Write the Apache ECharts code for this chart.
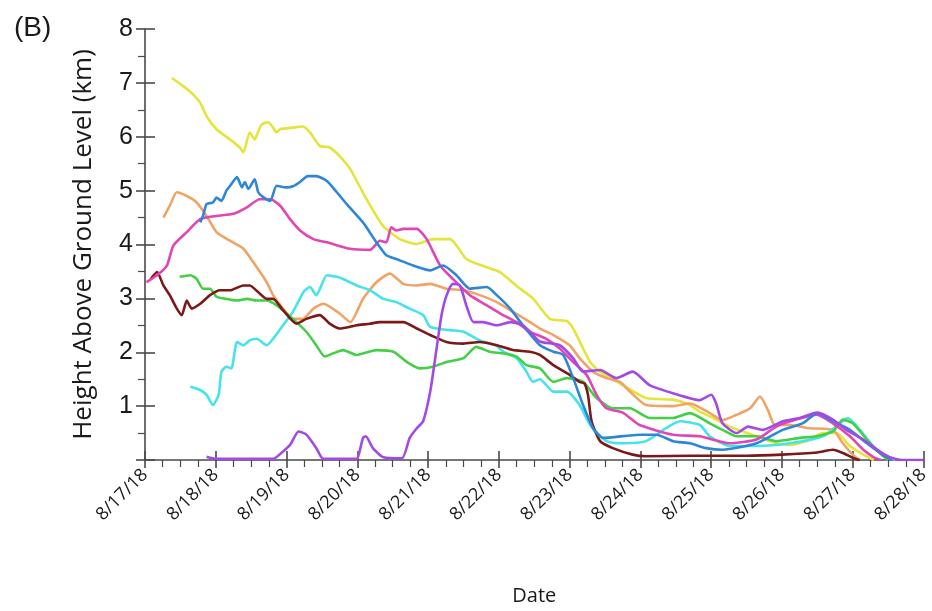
<!DOCTYPE html>
<html>
<head>
<meta charset="utf-8">
<script src="https://cdn.jsdelivr.net/npm/echarts@6/dist/echarts.min.js"></script>
<style>
html,body{margin:0;padding:0;background:#fff;}
#chart{width:932px;height:611px;}
</style>
</head>
<body>
<div id="chart"></div>
<script>
// x values are days since 8/17/18 00:00
const dateLabels = ['8/17/18','8/18/18','8/19/18','8/20/18','8/21/18','8/22/18','8/23/18','8/24/18','8/25/18','8/26/18','8/27/18','8/28/18'];
const yTickLabels = ['', '1', '2', '3', '4', '5', '6', '7', '8'];

const yellowSeries = [[0.38,7.09],[0.54,6.94],[0.66,6.81],[0.78,6.63],[0.87,6.38],[1.01,6.14],[1.2,5.95],[1.34,5.8],[1.39,5.71],[1.48,6.08],[1.55,5.95],[1.6,6.1],[1.65,6.23],[1.74,6.27],[1.81,6.17],[1.86,6.08],[1.91,6.14],[2.09,6.17],[2.23,6.19],[2.33,6.08],[2.47,5.83],[2.61,5.8],[2.75,5.64],[2.9,5.4],[3.13,4.84],[3.36,4.35],[3.6,4.1],[3.84,4.01],[4.07,4.1],[4.31,4.1],[4.54,3.73],[4.78,3.6],[5.01,3.49],[5.25,3.23],[5.48,3.0],[5.72,2.62],[5.96,2.58],[6.05,2.44],[6.19,2.07],[6.29,1.82],[6.43,1.64],[6.75,1.39],[7.08,1.15],[7.46,1.12],[7.65,1.05],[7.84,0.9],[7.98,0.81],[8.26,0.62],[8.64,0.44],[8.92,0.31],[9.11,0.28],[9.35,0.35],[9.58,0.5],[9.77,0.5],[9.96,0.26],[10.15,0.1],[10.3,0]];

const blueSeries = [[0.78,4.41],[0.82,4.53],[0.87,4.75],[0.96,4.78],[1.01,4.87],[1.08,4.81],[1.15,5.0],[1.22,5.12],[1.3,5.25],[1.37,5.06],[1.41,5.16],[1.46,5.03],[1.55,5.21],[1.6,4.97],[1.67,4.88],[1.77,4.81],[1.86,5.09],[2.0,5.06],[2.09,5.08],[2.19,5.16],[2.3,5.27],[2.42,5.27],[2.57,5.18],[2.71,4.97],[2.85,4.75],[3.08,4.41],[3.27,4.04],[3.41,3.8],[3.55,3.73],[3.79,3.61],[4.03,3.52],[4.21,3.61],[4.4,3.43],[4.59,3.18],[4.83,3.21],[4.97,3.06],[5.16,2.81],[5.34,2.5],[5.58,2.13],[5.77,2.01],[5.91,1.95],[6.05,1.52],[6.19,1.02],[6.33,0.59],[6.47,0.41],[6.99,0.47],[7.23,0.47],[7.46,0.35],[7.7,0.31],[7.93,0.22],[8.16,0.19],[8.64,0.31],[9.01,0.56],[9.29,0.68],[9.5,0.87],[9.72,0.72],[9.96,0.56],[10.2,0.31],[10.42,0.1],[10.55,0]];

const magentaSeries = [[0.02,3.3],[0.17,3.43],[0.31,3.61],[0.4,3.98],[0.59,4.23],[0.78,4.47],[1.01,4.53],[1.25,4.57],[1.44,4.69],[1.62,4.84],[1.77,4.84],[1.91,4.72],[2.05,4.47],[2.19,4.26],[2.38,4.1],[2.57,4.04],[2.9,3.92],[3.18,3.9],[3.32,4.07],[3.41,4.04],[3.48,4.32],[3.55,4.26],[3.65,4.29],[3.84,4.29],[3.98,4.1],[4.17,3.61],[4.35,3.36],[4.59,3.06],[4.83,2.87],[5.06,2.69],[5.25,2.56],[5.44,2.38],[5.67,2.25],[5.86,2.07],[6.05,1.82],[6.24,1.58],[6.38,1.21],[6.52,0.96],[6.75,0.88],[6.99,0.65],[7.46,0.47],[7.84,0.44],[8.26,0.31],[8.64,0.38],[8.92,0.62],[9.2,0.75],[9.49,0.84],[9.72,0.68],[9.96,0.44],[10.15,0.19],[10.3,0.05],[10.4,0]];

const orangeSeries = [[0.26,4.5],[0.35,4.72],[0.45,4.97],[0.59,4.9],[0.73,4.78],[0.87,4.53],[1.01,4.23],[1.2,4.07],[1.39,3.92],[1.53,3.67],[1.72,3.3],[1.81,3.06],[1.95,2.81],[2.09,2.62],[2.23,2.62],[2.38,2.81],[2.52,2.9],[2.75,2.72],[2.9,2.56],[3.08,2.99],[3.27,3.3],[3.46,3.46],[3.65,3.27],[3.84,3.24],[4.03,3.27],[4.26,3.18],[4.5,3.15],[4.73,3.06],[4.97,2.93],[5.2,2.75],[5.44,2.56],[5.58,2.44],[5.77,2.32],[6.0,2.13],[6.14,1.89],[6.33,1.64],[6.52,1.52],[6.71,1.45],[6.85,1.27],[7.08,1.02],[7.46,1.0],[7.7,1.05],[7.98,0.87],[8.16,0.74],[8.36,0.84],[8.55,0.96],[8.69,1.18],[8.8,0.93],[8.9,0.65],[9.11,0.65],[9.39,0.59],[9.72,0.56],[9.86,0.31],[10.0,0.1],[10.1,0]];

const maroonSeries = [[0.08,3.36],[0.17,3.49],[0.26,3.24],[0.35,3.06],[0.45,2.81],[0.52,2.69],[0.59,2.96],[0.66,2.81],[0.78,2.9],[0.92,3.06],[1.06,3.15],[1.2,3.15],[1.39,3.24],[1.48,3.24],[1.62,3.09],[1.72,2.99],[1.81,2.99],[1.95,2.78],[2.14,2.53],[2.28,2.62],[2.47,2.69],[2.61,2.53],[2.75,2.44],[2.99,2.5],[3.18,2.53],[3.32,2.56],[3.65,2.56],[3.84,2.44],[4.03,2.32],[4.26,2.19],[4.5,2.16],[4.73,2.19],[4.97,2.13],[5.2,2.04],[5.44,2.01],[5.58,1.95],[5.77,1.76],[6.0,1.58],[6.14,1.45],[6.21,1.42],[6.26,1.2],[6.31,0.72],[6.43,0.35],[6.61,0.22],[6.89,0.1],[7.08,0.07],[7.7,0.08],[8.5,0.08],[9.0,0.1],[9.5,0.14],[9.72,0.19],[9.86,0.13],[10.0,0.04],[10.1,0]];

const greenSeries = [[0.49,3.4],[0.64,3.43],[0.73,3.36],[0.82,3.18],[0.92,3.18],[1.01,3.03],[1.15,2.99],[1.3,2.96],[1.44,2.99],[1.58,2.96],[1.72,2.96],[1.86,2.87],[2.0,2.72],[2.14,2.56],[2.28,2.38],[2.42,2.13],[2.54,1.92],[2.66,1.98],[2.8,2.04],[2.99,1.95],[3.27,2.04],[3.51,2.01],[3.7,1.82],[3.88,1.7],[4.07,1.73],[4.26,1.82],[4.5,1.89],[4.68,2.1],[4.87,2.01],[5.06,1.98],[5.25,1.92],[5.39,1.76],[5.58,1.7],[5.77,1.45],[5.96,1.52],[6.19,1.45],[6.38,1.15],[6.61,0.96],[6.85,0.96],[7.13,0.78],[7.46,0.78],[7.7,0.87],[7.98,0.68],[8.16,0.56],[8.36,0.44],[8.64,0.44],[8.92,0.35],[9.25,0.41],[9.49,0.44],[9.72,0.53],[9.86,0.75],[10.0,0.68],[10.2,0.38],[10.38,0.13],[10.5,0]];

const cyanSeries = [[0.64,1.36],[0.78,1.3],[0.87,1.21],[0.96,1.02],[1.04,1.21],[1.08,1.64],[1.15,1.73],[1.22,1.7],[1.3,2.19],[1.39,2.13],[1.48,2.22],[1.58,2.25],[1.72,2.13],[1.81,2.25],[1.95,2.5],[2.09,2.75],[2.24,3.12],[2.33,3.21],[2.42,3.06],[2.57,3.43],[2.71,3.4],[2.8,3.36],[2.99,3.24],[3.18,3.15],[3.37,2.99],[3.55,2.93],[3.74,2.81],[3.93,2.69],[4.03,2.47],[4.31,2.41],[4.5,2.38],[4.73,2.22],[4.97,2.12],[5.06,2.01],[5.25,1.89],[5.39,1.64],[5.48,1.45],[5.58,1.5],[5.77,1.27],[5.96,1.27],[6.14,1.02],[6.29,0.65],[6.52,0.35],[6.75,0.31],[7.08,0.35],[7.36,0.59],[7.56,0.72],[7.84,0.65],[7.98,0.44],[8.26,0.26],[8.64,0.26],[9.11,0.31],[9.58,0.44],[9.82,0.68],[9.93,0.78],[10.1,0.56],[10.33,0.19],[10.48,0.08],[10.6,0]];

const purpleSeries = [[0.87,0.06],[1.0,0.02],[1.81,0.02],[1.95,0.16],[2.05,0.28],[2.17,0.53],[2.28,0.47],[2.42,0.22],[2.52,0.02],[2.99,0.02],[3.03,0.15],[3.08,0.41],[3.12,0.44],[3.22,0.22],[3.37,0.05],[3.63,0.03],[3.74,0.41],[3.84,0.59],[3.93,0.72],[4.03,1.27],[4.12,2.07],[4.19,2.69],[4.26,3.05],[4.35,3.27],[4.45,3.24],[4.54,2.87],[4.64,2.56],[4.78,2.56],[4.97,2.5],[5.16,2.56],[5.34,2.5],[5.44,2.38],[5.58,2.2],[5.86,2.13],[6.05,1.89],[6.19,1.64],[6.43,1.67],[6.66,1.52],[6.89,1.64],[7.13,1.39],[7.46,1.24],[7.84,1.11],[8.0,1.21],[8.07,1.05],[8.16,0.68],[8.36,0.5],[8.52,0.62],[8.73,0.56],[9.01,0.72],[9.25,0.78],[9.5,0.88],[9.72,0.75],[9.91,0.56],[10.15,0.38],[10.38,0.16],[10.52,0.05],[10.7,0.0],[11.0,0.0]];

const seriesNames = ['Yellow','Orange','Cyan','Green','Maroon','Magenta','Blue','Purple'];
const seriesData = [yellowSeries, orangeSeries, cyanSeries, greenSeries, maroonSeries, magentaSeries, blueSeries, purpleSeries];
const seriesColors = ['#e4e43a','#efa466','#45e3ec','#44d046','#7c1818','#e046b4','#2e86d6','#a24ae4'];

const chart = echarts.init(document.getElementById('chart'), null, {renderer:'canvas'});
const axisColor = '#4a4a4a';
const tickFont = 'Liberation Sans, Arial, sans-serif';
const textFont = 'Open Sans, sans-serif';

const option = {
  animation: false,
  backgroundColor: '#fff',
  title: {
    text: '(B)', left: 9, top: 9,
    textStyle: {fontSize: 28, fontWeight: 'normal', color: '#1a1a1a', fontFamily: tickFont}
  },
  grid: {left: 145, right: 7, top: 29, bottom: 149, containLabel: false},
  xAxis: [{
    type: 'value', min: 0, max: 11, interval: 1,
    name: 'Date', nameLocation: 'middle', nameGap: 126,
    nameTextStyle: {fontSize: 20, color: '#1a1a1a', fontFamily: textFont},
    axisLine: {show: true, onZero: false, lineStyle: {color: axisColor, width: 1.6}},
    axisTick: {show: true, inside: false, length: 8, lineStyle: {color: axisColor, width: 1.6}},
    minorTick: {show: true, splitNumber: 4, length: 7, lineStyle: {color: axisColor, width: 1.2}},
    splitLine: {show: false},
    axisLabel: {
      rotate: 45, fontSize: 18, color: '#1a1a1a', fontFamily: textFont, margin: 12,
      formatter: function(v){ return dateLabels[Math.round(v)] || ''; }
    }
  }, {
    type: 'value', min: 0, max: 11, interval: 1, position: 'bottom',
    axisLine: {show: false},
    axisTick: {show: true, inside: true, length: 9, lineStyle: {color: axisColor, width: 1.6}},
    axisLabel: {show: false}, splitLine: {show: false}
  }],
  yAxis: [{
    type: 'value', min: 0, max: 8, interval: 1,
    name: 'Height Above Ground Level (km)', nameLocation: 'middle', nameGap: 48, nameRotate: 90,
    nameTextStyle: {fontSize: 26, color: '#1a1a1a', fontFamily: textFont},
    axisLine: {show: true, onZero: false, lineStyle: {color: axisColor, width: 1.6}},
    axisTick: {show: true, inside: false, length: 9, lineStyle: {color: axisColor, width: 1.6}},
    minorTick: {show: true, splitNumber: 2, length: 7, lineStyle: {color: axisColor, width: 1.2}},
    splitLine: {show: false},
    axisLabel: {
      fontSize: 25, color: '#1a1a1a', fontFamily: tickFont, margin: 12,
      formatter: function(v){ return yTickLabels[Math.round(v)]; }
    }
  }, {
    type: 'value', min: 0, max: 8, interval: 1, position: 'left',
    axisLine: {show: false},
    axisTick: {show: true, inside: true, length: 10, lineStyle: {color: axisColor, width: 1.6}},
    axisLabel: {show: false}, splitLine: {show: false}
  }],
  series: seriesData.map(function(d, i){
    return {
      name: seriesNames[i], type: 'line', data: d,
      xAxisIndex: 0, yAxisIndex: 0,
      showSymbol: false, symbol: 'none', smooth: 0.2,
      lineStyle: {color: seriesColors[i], width: 2.6},
      itemStyle: {color: seriesColors[i]},
      z: 2 + i
    };
  })
};
chart.setOption(option);
</script>
</body>
</html>
